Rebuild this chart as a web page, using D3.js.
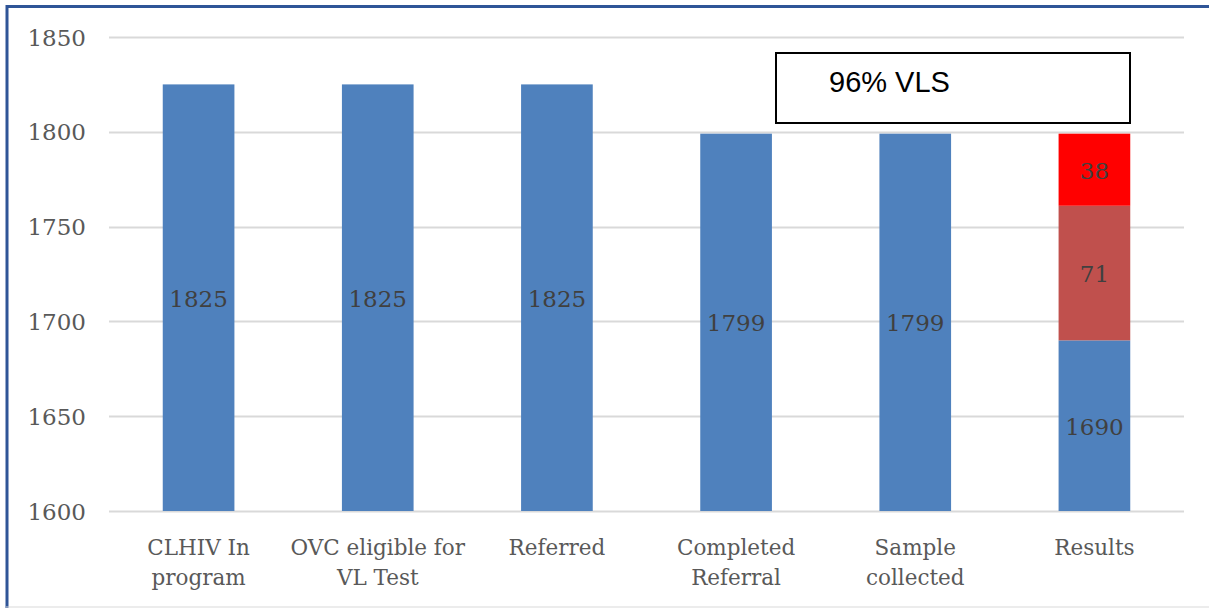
<!DOCTYPE html>
<html><head><meta charset="utf-8">
<script src="https://cdn.jsdelivr.net/npm/d3@7"></script>
<style>body{margin:0;background:#fff}svg{display:block}</style>
</head><body>
<script>
const categories = [["CLHIV In","program"],["OVC eligible for","VL Test"],["Referred"],["Completed","Referral"],["Sample","collected"],["Results"]];
const baseValues = [1825,1825,1825,1799,1799,1690];
const midValues = [0,0,0,0,0,71];
const topValues = [0,0,0,0,0,38];
const yTicks = [1600,1650,1700,1750,1800,1850];
const annotation = "96% VLS";

const W=1209,H=608;
const svg=d3.select("body").append("svg").attr("width",W).attr("height",H);
svg.append("rect").attr("x",0).attr("y",0).attr("width",W).attr("height",H).attr("fill","#fff");
// frame
svg.append("line").attr("x1",6).attr("x2",W).attr("y1",6.5).attr("y2",6.5).attr("stroke","#2F5597").attr("stroke-width",3);
svg.append("line").attr("x1",7).attr("x2",7).attr("y1",5).attr("y2",H).attr("stroke","#2F5597").attr("stroke-width",3);
svg.append("line").attr("x1",6).attr("x2",W).attr("y1",607).attr("y2",607).attr("stroke","#d9d9d9").attr("stroke-width",1);

const x=d3.scaleBand().domain(d3.range(categories.length)).range([109,1184]).paddingInner(0.6).paddingOuter(0.3);
const y=d3.scaleLinear().domain([1600,1850]).range([511,37]);

const grid=svg.append("g");
yTicks.forEach(t=>{
  grid.append("line").attr("x1",109).attr("x2",1184).attr("y1",Math.round(y(t))+0.5).attr("y2",Math.round(y(t))+0.5).attr("stroke","#d9d9d9").attr("stroke-width",2);
});
const yAxis=d3.axisLeft(y).tickValues(yTicks).tickFormat(d3.format("d")).tickSize(0).tickPadding(0);
const ga=svg.append("g").attr("transform","translate(86,0)").call(yAxis);
ga.select(".domain").remove();
ga.selectAll("text").attr("font-family","DejaVu Serif").attr("font-size",23).attr("fill","#595959").attr("dy","0.35em");

const stacks=categories.map((c,i)=>{
  const b=baseValues[i],m=midValues[i],t=topValues[i];
  const segs=[{y0:1600,y1:b,v:b,c:"#4F81BD"}];
  if(m) segs.push({y0:b,y1:b+m,v:m,c:"#C0504D"});
  if(t) segs.push({y0:b+m,y1:b+m+t,v:t,c:"#FF0000"});
  return {i,segs};
});
stacks.forEach(s=>{
  s.segs.forEach(d=>{
    svg.append("rect").attr("x",x(s.i)).attr("width",x.bandwidth())
      .attr("y",y(d.y1)).attr("height",y(d.y0)-y(d.y1)).attr("fill",d.c);
    svg.append("text").attr("x",x(s.i)+x.bandwidth()/2).attr("y",(y(d.y0)+y(d.y1))/2+1)
      .attr("dy","0.35em").attr("text-anchor","middle").attr("font-family","DejaVu Serif")
      .attr("font-size",23).attr("fill","#404040").text(d.v);
  });
});

categories.forEach((lines,i)=>{
  const t=svg.append("text").attr("text-anchor","middle").attr("font-family","DejaVu Serif").attr("font-size",21.5).attr("fill","#595959");
  lines.forEach((l,k)=>t.append("tspan").attr("x",x(i)+x.bandwidth()/2).attr("y",555+k*30).text(l));
});

svg.append("rect").attr("x",776).attr("y",53).attr("width",354).attr("height",70).attr("fill","#fff").attr("stroke","#000").attr("stroke-width",2);
svg.append("text").attr("x",829).attr("y",92).attr("font-family","Liberation Sans").attr("font-size",29).attr("fill","#000").text(annotation);
</script>
</body></html>
